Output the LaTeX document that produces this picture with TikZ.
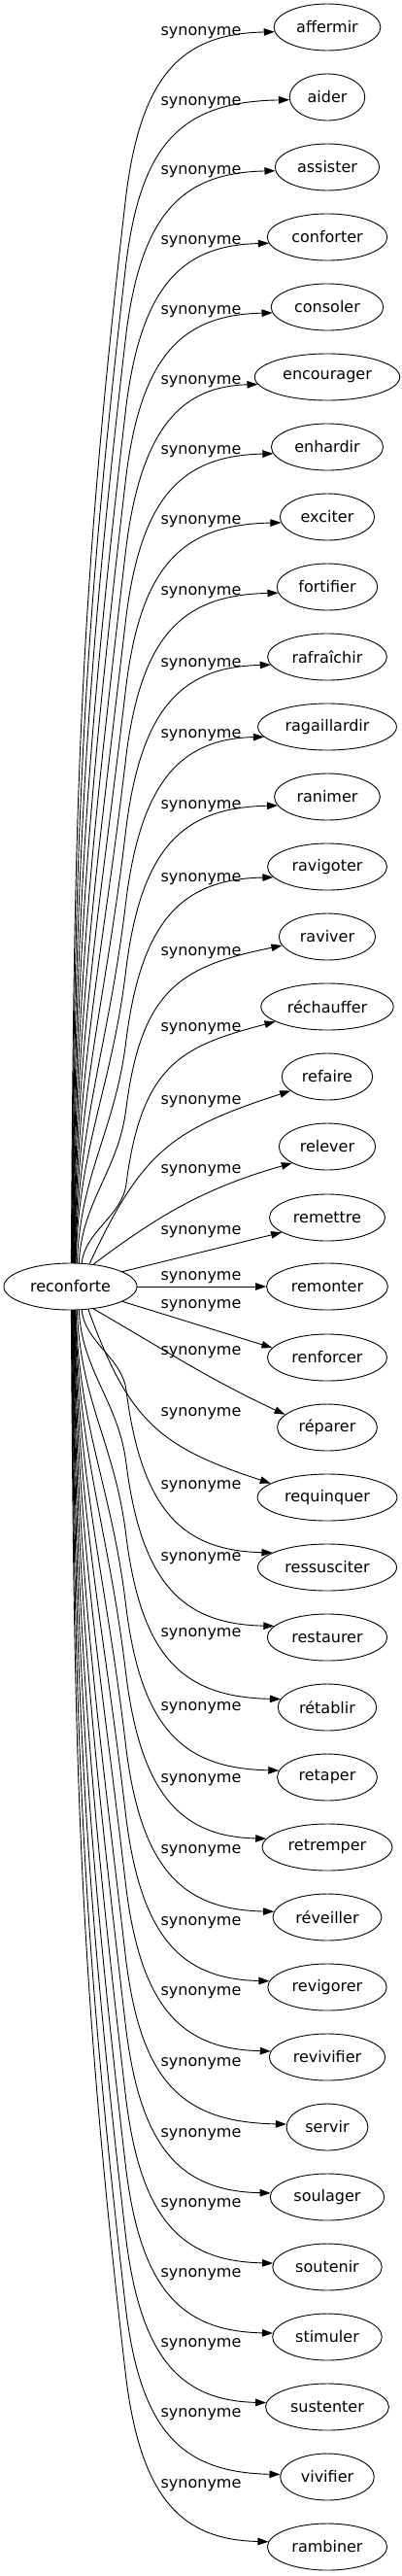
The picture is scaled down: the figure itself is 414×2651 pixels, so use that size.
\documentclass[tikz,border=0pt]{standalone}
\usepackage{fontspec}
\setmainfont{DejaVu Sans}
\usetikzlibrary{arrows.meta,calc,shapes.geometric}
\tikzset{
  word/.style={draw,ellipse,inner xsep=7pt,minimum height=48pt},
  rel/.style={inner sep=0pt},
  far up/.style={to path={
    let \p1=(\tikztostart), \p2=(\tikztotarget), \n1={0.4*(\y2-167pt-\y1)} in
    .. controls (\x1+3pt,\y1+\n1*1pt) and (130pt-0.117*\n1*1pt,\y2-167pt-\n1*1pt) .. (130pt,\y2-167pt)
    .. controls (146pt,\y2-42pt) and (189pt,\y2-#1pt) .. (\tikztotarget)}},
  far up/.default=2,
  far down/.style={to path={
    let \p1=(\tikztostart), \p2=(\tikztotarget), \n1={0.4*(\y1-\y2-167pt)} in
    .. controls (\x1+3pt,\y1-\n1*1pt) and (130pt-0.117*\n1*1pt,\y2+167pt+\n1*1pt) .. (130pt,\y2+167pt)
    .. controls (146pt,\y2+42pt) and (189pt,\y2+#1pt) .. (\tikztotarget)}},
  far down/.default=2
}
\begin{document}
\begin{tikzpicture}[x=1pt,y=1pt,line width=0.9pt,font=\fontsize{16}{19}\selectfont]
      \useasboundingbox (0,0) rectangle (414,-2651);
      \begin{scope}[every node/.style=word]
      \draw
        (72.5,-1324) node (src){reconforte}
        (337,-28) node (0){affermir}
        (337,-100) node (1){aider}
        (337,-172) node (2){assister}
        (337,-244) node (3){conforter}
        (337,-316) node (4){consoler}
        (337,-388) node (5){encourager}
        (337,-460) node (6){enhardir}
        (337,-532) node (7){exciter}
        (337,-604) node (8){fortifier}
        (337,-676) node (9){rafraîchir}
        (337,-748) node (10){ragaillardir}
        (337,-820) node (11){ranimer}
        (337,-892) node (12){ravigoter}
        (337,-964) node (13){raviver}
        (337,-1036) node (14){réchauffer}
        (337,-1108) node (15){refaire}
        (337,-1180) node (16){relever}
        (337,-1253) node (17){remettre}
        (337,-1324) node (18){remonter}
        (337,-1397) node (19){renforcer}
        (337,-1469) node (20){réparer}
        (337,-1541) node (21){requinquer}
        (337,-1613) node (22){ressusciter}
        (337,-1685) node (23){restaurer}
        (337,-1757) node (24){rétablir}
        (337,-1829) node (25){retaper}
        (337,-1901) node (26){retremper}
        (337,-1973) node (27){réveiller}
        (337,-2045) node (28){revigorer}
        (337,-2117) node (29){revivifier}
        (337,-2189) node (30){servir}
        (337,-2261) node (31){soulager}
        (337,-2333) node (32){soutenir}
        (337,-2405) node (33){stimuler}
        (337,-2477) node (34){sustenter}
        (337,-2549) node (35){vivifier}
        (337,-2621) node (36){rambiner};
      \end{scope}
      \begin{scope}[every node/.style=rel]
      \draw
        (207,-34) node (l0){synonyme}
        (207,-106) node (l1){synonyme}
        (207,-177) node (l2){synonyme}
        (207,-249) node (l3){synonyme}
        (207,-321) node (l4){synonyme}
        (207,-393) node (l5){synonyme}
        (207,-465) node (l6){synonyme}
        (207,-537) node (l7){synonyme}
        (207,-610) node (l8){synonyme}
        (207,-684) node (l9){synonyme}
        (207,-757) node (l10){synonyme}
        (207,-830) node (l11){synonyme}
        (207,-905) node (l12){synonyme}
        (207,-981) node (l13){synonyme}
        (207,-1059) node (l14){synonyme}
        (207,-1134) node (l15){synonyme}
        (207,-1205) node (l16){synonyme}
        (207,-1268) node (l17){synonyme}
        (207,-1315) node (l18){synonyme}
        (207,-1344) node (l19){synonyme}
        (207,-1392) node (l20){synonyme}
        (207,-1455) node (l21){synonyme}
        (207,-1530) node (l22){synonyme}
        (207,-1604) node (l23){synonyme}
        (207,-1682) node (l24){synonyme}
        (207,-1758) node (l25){synonyme}
        (207,-1832) node (l26){synonyme}
        (207,-1905) node (l27){synonyme}
        (207,-1979) node (l28){synonyme}
        (207,-2051) node (l29){synonyme}
        (207,-2124) node (l30){synonyme}
        (207,-2197) node (l31){synonyme}
        (207,-2269) node (l32){synonyme}
        (207,-2341) node (l33){synonyme}
        (207,-2413) node (l34){synonyme}
        (207,-2485) node (l35){synonyme}
        (207,-2558) node (l36){synonyme};
      \end{scope}
      \begin{scope}[-{Triangle[length=11pt,width=7.5pt]}]
        \draw[far up] (src.88) to (0.185);
        \draw[far up] (src.87) to (1.184);
        \draw[far up] (src.86) to (2.184);
        \draw[far up] (src.85) to (3.186);
        \draw[far up] (src.84) to (4.186);
        \draw[far up] (src.83) to (5.186);
        \draw[far up] (src.82) to (6.187);
        \draw[far up] (src.81) to (7.187);
        \draw[far up] (src.80) to (8.187);
        \draw[far up] (src.79) to (9.188);
        \draw[far up] (src.78) to (10.189);
        \draw[far up] (src.77) to (11.190);
        \draw[far up] (src.74) to (12.191);
        \draw[far up=21] (src.70) to (13.191);
        \draw[far up=25] (src.64) to (14.196);
        \draw (src.50) to[out=65,in=198,looseness=1.2] (15.201);
        \draw (src.44) to[out=37,in=196] (16.205);
        \draw (src.16) -- (17.198);
        \draw (src.east) -- (18.west);
        \draw (src.-16) -- (19.170);
        \draw (src.-44) to[out=-30,in=155] (20.163);
        \draw (src.-52) to[out=-70,in=162,looseness=1.2] (21.166);
        \draw[far down] (src.-64) to (22.165);
        \draw[far down] (src.-70) to (23.168);
        \draw[far down] (src.-74) to (24.170);
        \draw[far down] (src.-77) to (25.172);
        \draw[far down] (src.-78) to (26.172);
        \draw[far down] (src.-79) to (27.174);
        \draw[far down] (src.-80) to (28.174);
        \draw[far down] (src.-81) to (29.174);
        \draw[far down] (src.-82) to (30.176);
        \draw[far down] (src.-83) to (31.176);
        \draw[far down] (src.-84) to (32.176);
        \draw[far down] (src.-85) to (33.176);
        \draw[far down] (src.-86) to (34.176);
        \draw[far down] (src.-87) to (35.177);
        \draw[far down] (src.-88) to (36.175);
      \end{scope}
    \end{tikzpicture}
\end{document}
